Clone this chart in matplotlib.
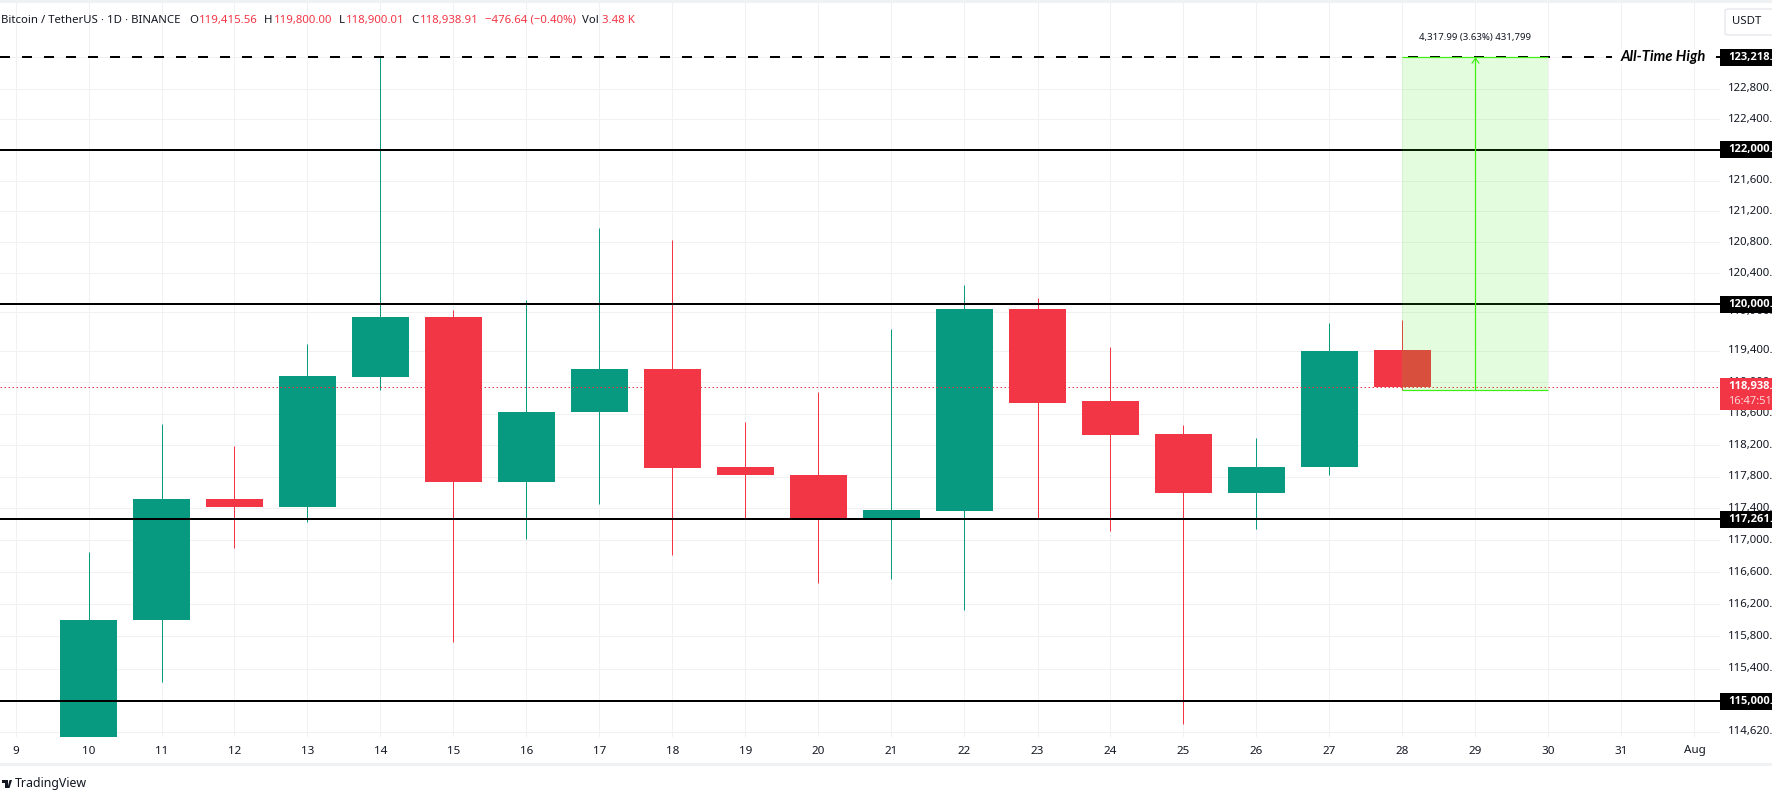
import matplotlib
matplotlib.use("Agg")
import matplotlib.pyplot as plt
from matplotlib.patches import Rectangle, FancyBboxPatch, Polygon
from matplotlib.ticker import NullLocator, NullFormatter

plt.rcParams['font.family'] = ['Noto Sans', 'DejaVu Sans']

W, H = 1772, 800
days = list(range(10, 29))
opens = [114450, 116000, 117524, 117411, 119070, 119836, 117737, 118624, 119170, 117922, 117822,
         117255, 117368, 119937, 118760, 118338, 117596, 117922, 119415.56]
closes = [116000, 117524, 117411, 119084, 119836, 117737, 118624, 119170, 117908, 117822, 117255,
          117381, 119937, 118739, 118323, 117596, 117922, 119401, 118938.91]
highs = [116857, 118466, 118194, 119488, 123218, 119923, 120053, 120985, 120825, 118495, 118869,
         119676, 120242, 120082, 119445, 118452, 118294, 119763, 119800]
lows = [114450, 115230, 116902, 117227, 118897, 115733, 117014, 117453, 116814, 117268, 116462,
        116519, 116126, 117282, 117113, 114716, 117141, 117822, 118900.01]

tick_values = [114620, 115400, 115800, 116200, 116600, 117000, 117400, 117800, 118200, 118600,
               119000, 119400, 119900, 120400, 120800, 121200, 121600, 122400, 122800]
solid_levels = [122000, 120000, 117261, 115000]
ath_level = 123218
ath_label = "All-Time High"
current_price = 118938.91
countdown = "16:47:51"
ruler_start_day, ruler_end_day = 28, 30
ruler_low, ruler_high = 118900, 123218
ruler_text = "4,317.99 (3.63%) 431,799"
x_days = list(range(9, 33))
x_labels = [str(d) for d in range(9, 32)] + ["Aug"]

GREEN = "#089981"
RED = "#F23645"
GRID = "#f1f1f3"
RULER = "#3cf00f"
TXT = "#131722"

fig = plt.figure(figsize=(W / 100, H / 100), dpi=100, facecolor="white")
PANE_L, PANE_R, PANE_T, PANE_B = 0, 1720, 3, 737
ax = fig.add_axes([PANE_L / W, 1 - PANE_B / H, (PANE_R - PANE_L) / W, (PANE_B - PANE_T) / H])
ax.set_yscale("log")
ax.set_xlim(9 - 15.5 / 73, 9 + (1720 - 15.5) / 73)
ax.set_ylim(114557, 123937)
for s in ax.spines.values():
    s.set_visible(False)
ax.yaxis.set_major_locator(NullLocator())
ax.yaxis.set_minor_locator(NullLocator())
ax.yaxis.set_major_formatter(NullFormatter())
ax.yaxis.set_minor_formatter(NullFormatter())
ax.set_xticks([])
ax.set_axisbelow(True)

PX = 0.72
for v in tick_values + solid_levels + [ath_level]:
    ax.axhline(v, color=GRID, lw=PX, zorder=0.5)
for d in x_days:
    ax.axvline(d, color=GRID, lw=PX, zorder=0.5)

for d, o, h, l, c in zip(days, opens, highs, lows, closes):
    col = GREEN if c >= o else RED
    ax.vlines(d, l, h, color=col, lw=PX, zorder=2)
    ax.bar(d, abs(c - o), bottom=min(o, c), width=57 / 73, color=col, linewidth=0, zorder=2.1)

ax.axhline(current_price, color=RED, lw=PX, dashes=(1.5, 2.5), zorder=2.5)
for lv in solid_levels:
    ax.axhline(lv, color="black", lw=2 * PX, zorder=3)
ax.axhline(ath_level, color="black", lw=2 * PX, dashes=(5, 6), zorder=3)

# measure tool
ax.add_patch(Rectangle((ruler_start_day, ruler_low), ruler_end_day - ruler_start_day, ruler_high - ruler_low,
                       facecolor=RULER, alpha=0.14, edgecolor="none", zorder=4))
ax.hlines([ruler_low, ruler_high], ruler_start_day, ruler_end_day, color=RULER, lw=PX * 1.2, zorder=4.1)
mid = (ruler_start_day + ruler_end_day) / 2
ax.annotate("", xy=(mid, ruler_high), xytext=(mid, ruler_low),
            arrowprops=dict(arrowstyle="->,head_length=0.35,head_width=0.25", color=RULER, lw=PX * 1.2,
                            shrinkA=0, shrinkB=0), zorder=4.2)
ax.annotate(ruler_text, xy=(mid, ruler_high), xytext=(0, 20), textcoords="offset pixels",
            ha="center", va="center", fontsize=6.9, color=TXT, zorder=5, annotation_clip=False)


def ypx(v):
    return H - ax.transData.transform((0, v))[1]


def ftext(x, y, s, **kw):
    kw.setdefault("fontsize", 8.2)
    kw.setdefault("color", TXT)
    kw.setdefault("va", "center")
    kw.setdefault("zorder", 12)
    return fig.text(x / W, 1 - y / H, s, **kw)


def frect(x0, y0, x1, y1, color, zorder=10):
    fig.add_artist(Rectangle((x0 / W, 1 - y1 / H), (x1 - x0) / W, (y1 - y0) / H, transform=fig.transFigure,
                             facecolor=color, edgecolor="none", zorder=zorder))


# All-time-high caption sits on the dashed line
frect(1612, ypx(ath_level) - 8, 1714, ypx(ath_level) + 8, "white", zorder=9)
ftext(1621, ypx(ath_level), ath_label, family="Lato", fontsize=10.6, style="italic", weight="bold", color="black")

# frame bands
frect(0, 0, W, 3, "#f0f1f3", zorder=1)
frect(0, 763, W, 766, "#f0f1f3", zorder=1)

# price axis
for v in tick_values:
    ftext(1728, ypx(v), f"{v:,}.", zorder=9)
for lv in solid_levels + [ath_level]:
    y = ypx(lv)
    frect(1720, y - 8.5, W, y + 8.5, "black")
    ftext(1728, y, f"{lv:,}.", family="Open Sans", color="white", weight="bold", fontsize=8)
y = ypx(current_price)
frect(1720, y - 8.5, W, y + 23, RED)
ftext(1728, y, f"{int(current_price):,}.", family="Open Sans", color="white", weight="bold", fontsize=8)
ftext(1728, y + 15, countdown, color="#fbd5d8", fontsize=8)

# USDT button
fig.add_artist(FancyBboxPatch((1725 / W, 1 - 35 / H), 60 / W, 26 / H, transform=fig.transFigure,
                              boxstyle="round,pad=0,rounding_size=0.003", facecolor="white",
                              edgecolor="#e0e3eb", lw=0.8, zorder=10, mutation_aspect=H / W))
ftext(1732, 22, "USDT")

# time axis
for d, lab in zip(x_days, x_labels):
    x = ax.transData.transform((d, 0))[0]
    ftext(x, 751, lab, ha="center", fontsize=8.4)

# header
ftext(1, 20.5, "Bitcoin / TetherUS · 1D · BINANCE")
for x, s, c in [(189, "O", TXT), (199, "119,415.56", RED), (264, "H", TXT), (274, "119,800.00", RED),
                (339, "L", TXT), (346, "118,900.01", RED), (411, "C", TXT), (420, "118,938.91", RED),
                (485, "−476.64 (−0.40%)", RED), (582, "Vol", TXT), (602, "3.48 K", RED)]:
    ftext(x, 20.5, s, color=c)

# TradingView mark
fig.add_artist(Polygon([(2 / W, 1 - 780 / H), (8 / W, 1 - 780 / H), (8 / W, 1 - 788 / H), (5 / W, 1 - 788 / H),
                        (5 / W, 1 - 783 / H), (2 / W, 1 - 783 / H)], closed=True, transform=fig.transFigure,
                       facecolor=TXT, edgecolor="none", zorder=11))
fig.add_artist(Polygon([(9.5 / W, 1 - 788 / H), (12 / W, 1 - 780 / H), (9.5 / W, 1 - 780 / H), (7.5 / W, 1 - 788 / H)],
                       closed=True, transform=fig.transFigure, facecolor=TXT, edgecolor="none", zorder=11))
ftext(15, 783.5, "TradingView", fontsize=8.9)

fig.savefig("out.png", dpi=100, facecolor="white")
